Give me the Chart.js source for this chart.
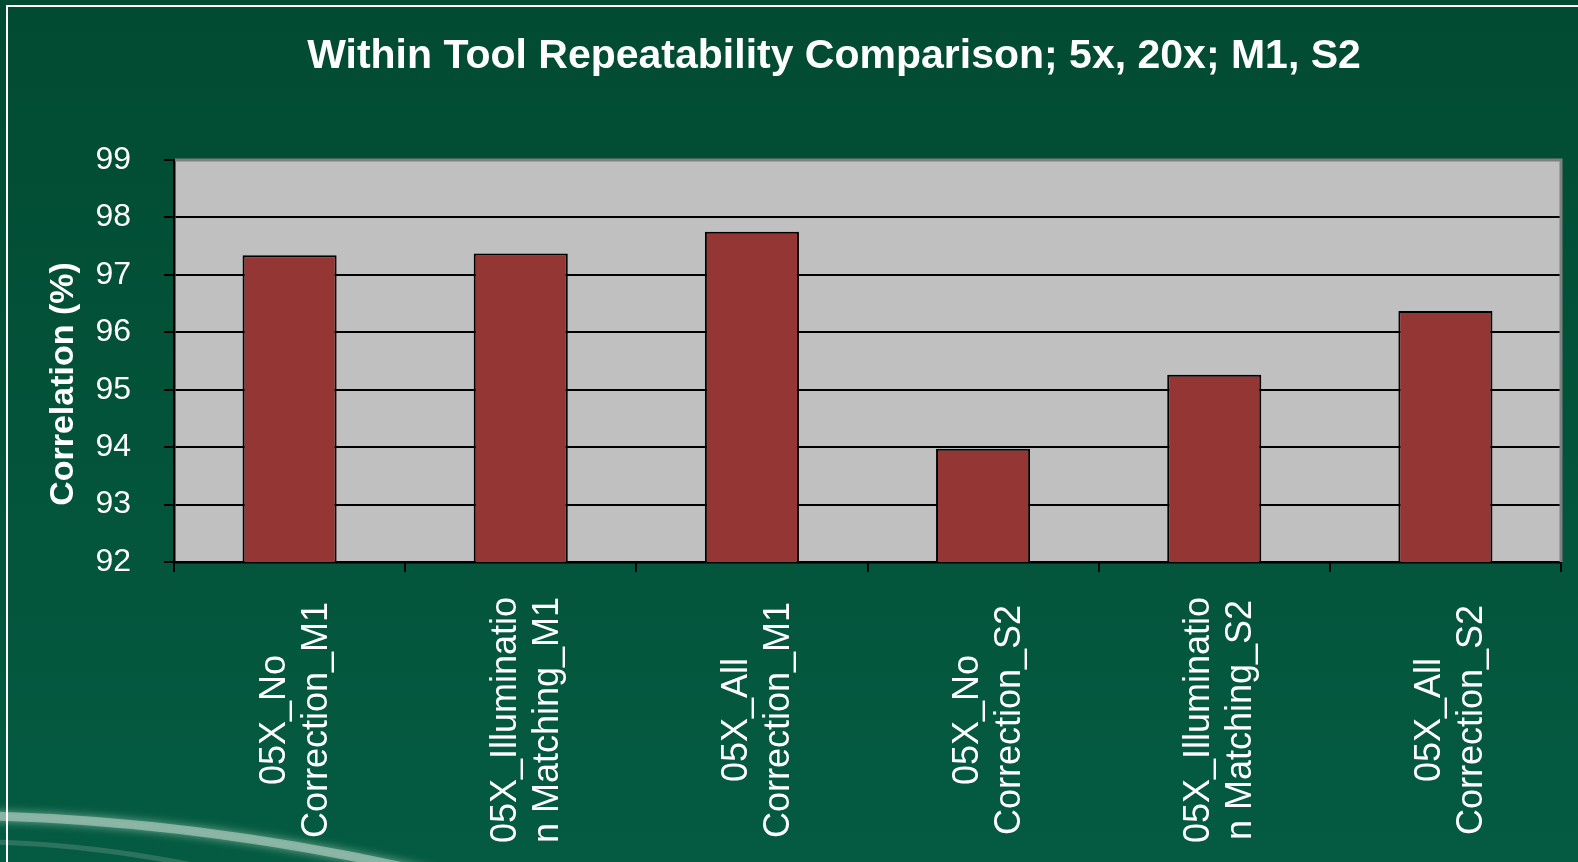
<!DOCTYPE html>
<html>
<head>
<meta charset="utf-8">
<script src="https://cdn.jsdelivr.net/npm/chart.js@4/dist/chart.umd.min.js"></script>
<style>
    html, body { margin: 0; padding: 0; background: #014d34; }
    #wrap { width: 1578px; height: 862px; }
</style>
</head>
<body>
<div id="wrap"><canvas id="grafico"></canvas></div>
<script>
const categorias = [
    ["05X_No", "Correction_M1"],
    ["05X_Illuminatio", "n Matching_M1"],
    ["05X_All", "Correction_M1"],
    ["05X_No", "Correction_S2"],
    ["05X_Illuminatio", "n Matching_S2"],
    ["05X_All", "Correction_S2"]
];
const correlacao = [97.34, 97.37, 97.75, 93.97, 95.26, 96.37];
const escalaY = [92, 93, 94, 95, 96, 97, 98, 99];
const titulo = "Within Tool Repeatability Comparison; 5x, 20x; M1, S2";
const tituloY = "Correlation (%)";

const fonte = "'Liberation Sans', Arial, sans-serif";

const decoracao = {
    id: "decoracao",
    beforeDraw(chart) {
        const ctx = chart.ctx;
        const a = chart.chartArea;
        const w = chart.width, h = chart.height;

        // fundo verde
        const g = ctx.createLinearGradient(0, 0, 0, h);
        g.addColorStop(0, "#014b32");
        g.addColorStop(1, "#045b41");
        ctx.save();
        ctx.fillStyle = g;
        ctx.fillRect(0, 0, w, h);

        // faixa clara no canto
        ctx.shadowColor = "rgba(190,220,205,0.8)";
        ctx.shadowBlur = 10;
        ctx.strokeStyle = "rgba(160,195,180,0.75)";
        ctx.lineWidth = 9;
        ctx.beginPath();
        ctx.moveTo(-10, 816);
        ctx.quadraticCurveTo(220, 822, 460, 880);
        ctx.stroke();
        ctx.shadowBlur = 0;
        ctx.strokeStyle = "rgba(120,160,145,0.35)";
        ctx.lineWidth = 5;
        ctx.beginPath();
        ctx.moveTo(-10, 842);
        ctx.quadraticCurveTo(120, 845, 260, 880);
        ctx.stroke();

        // moldura branca
        ctx.strokeStyle = "#ffffff";
        ctx.lineWidth = 2;
        ctx.strokeRect(7, 6, w + 20, h + 20);

        // area do grafico
        ctx.fillStyle = "#c0c0c0";
        ctx.fillRect(a.left, a.top, a.right - a.left, a.bottom - a.top);
        ctx.restore();
    },
    beforeDatasetsDraw(chart) {
        const ctx = chart.ctx;
        const a = chart.chartArea;
        ctx.save();
        ctx.strokeStyle = "#808080";
        ctx.lineWidth = 3;
        ctx.beginPath();
        ctx.moveTo(a.left + 1, a.top);
        ctx.lineTo(a.right, a.top);
        ctx.lineTo(a.right, a.bottom);
        ctx.stroke();
        ctx.restore();
    },
    afterDraw(chart) {
        const ctx = chart.ctx;
        const x = chart.scales.x;
        ctx.save();
        ctx.fillStyle = "#ffffff";

        // titulo
        ctx.font = "bold 41px " + fonte;
        ctx.textAlign = "center";
        ctx.textBaseline = "alphabetic";
        ctx.fillText(titulo, 834, 68);

        // titulo do eixo y
        ctx.save();
        ctx.translate(73, 384);
        ctx.rotate(-Math.PI / 2);
        ctx.font = "bold 34px " + fonte;
        ctx.fillText(tituloY, 0, 0);
        ctx.restore();

        // rotulos do eixo x
        ctx.font = "36px " + fonte;
        categorias.forEach(function (linhas, i) {
            const cx = x.getPixelForValue(i);
            ctx.save();
            ctx.translate(cx, 720);
            ctx.rotate(-Math.PI / 2);
            linhas.forEach(function (txt, j) {
                const off = (j - (linhas.length - 1) / 2) * 42 + 16;
                ctx.fillText(txt, 0, off);
            });
            ctx.restore();
        });
        ctx.restore();
    }
};

new Chart(document.getElementById("grafico"), {
    type: "bar",
    data: {
        labels: categorias,
        datasets: [{
            label: "Correlation",
            data: correlacao,
            backgroundColor: "#943634",
            borderColor: "#000000",
            borderWidth: 2,
            barPercentage: 0.407,
            categoryPercentage: 1
        }]
    },
    options: {
        responsive: true,
        maintainAspectRatio: false,
        animation: false,
        layout: {
            padding: { left: 0, right: 17, top: 160, bottom: 0 }
        },
        plugins: {
            legend: { display: false },
            title: { display: false },
            tooltip: { enabled: false }
        },
        scales: {
            x: {
                offset: true,
                ticks: { display: false },
                grid: {
                    display: true,
                    offset: true,
                    drawOnChartArea: false,
                    drawTicks: true,
                    tickLength: 10,
                    color: "#000000",
                    lineWidth: 2
                },
                border: { color: "#000000", width: 2.5 },
                afterFit(scale) { scale.height = 300; }
            },
            y: {
                min: escalaY[0],
                max: escalaY[escalaY.length - 1],
                afterBuildTicks(scale) {
                    scale.ticks = escalaY.map(function (v) { return { value: v }; });
                },
                ticks: {
                    color: "#ffffff",
                    padding: 33,
                    font: { family: fonte, size: 32 }
                },
                grid: {
                    color: function (c) {
                        return c.tick && c.tick.value === 99 ? "#808080" : "#000000";
                    },
                    tickColor: "#000000",
                    lineWidth: 2,
                    tickLength: 10
                },
                border: { color: "#000000", width: 2.5 },
                afterFit(scale) { scale.width = 174; }
            }
        }
    },
    plugins: [decoracao]
});
</script>
</body>
</html>
